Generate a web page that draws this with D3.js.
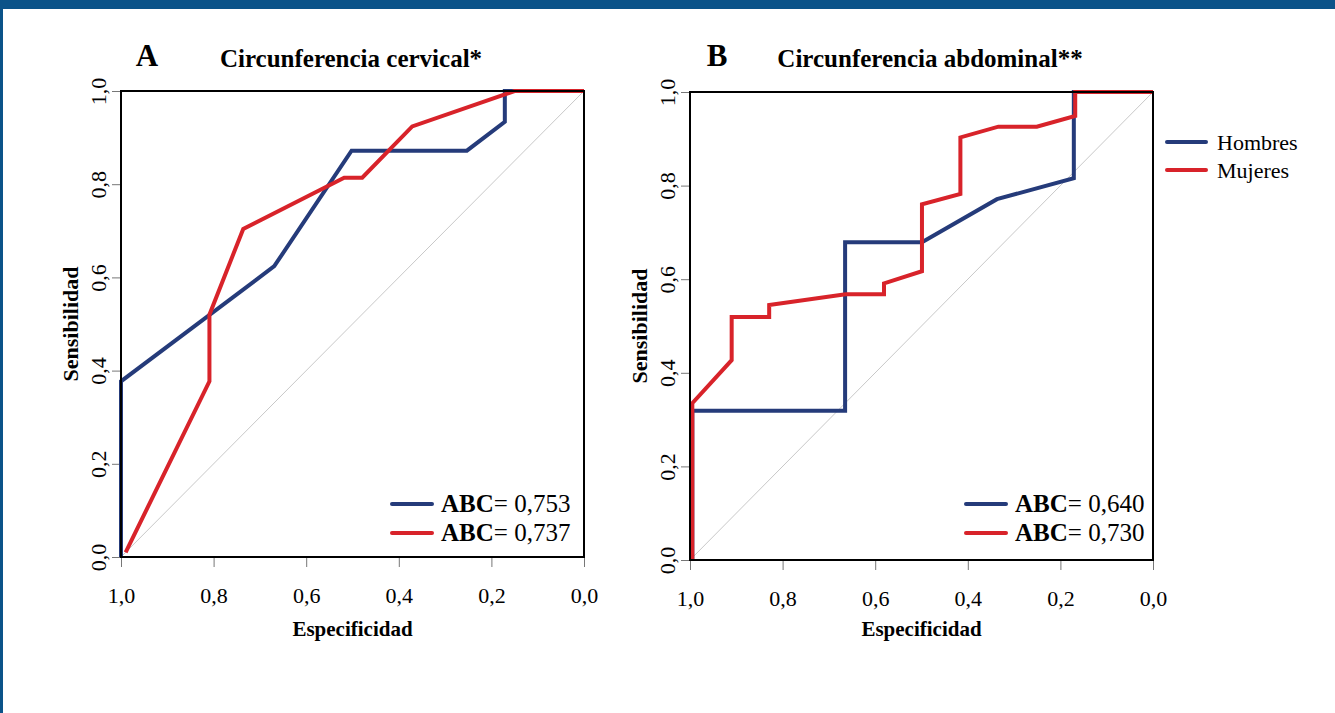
<!DOCTYPE html>
<html>
<head>
<meta charset="utf-8">
<script src="https://cdn.jsdelivr.net/npm/d3@7"></script>
<style>
	body { margin: 0; background: #fff; }
	svg { display: block; }
	text { font-family: "Liberation Serif", "Times New Roman", serif; fill: #000; }
</style>
</head>
<body>
<div id="chart"></div>
<script>
// axis ticks
var tickValues = [1, 0.8, 0.6, 0.4, 0.2, 0];

// panel A - circunferencia cervical
var hombresA_spec = [1, 1, 0.669, 0.502, 0.253, 0.171, 0.171, 0];
var hombresA_sens = [0, 0.377, 0.624, 0.872, 0.872, 0.934, 1, 1];
var mujeresA_spec = [0.99, 0.809, 0.809, 0.736, 0.518, 0.479, 0.371, 0.150, 0];
var mujeresA_sens = [0.01, 0.377, 0.52, 0.704, 0.814, 0.814, 0.924, 1, 1];

// panel B - circunferencia abdominal
var hombresB_spec = [0.995, 0.995, 0.665, 0.665, 0.499, 0.337, 0.171, 0.171, 0];
var hombresB_sens = [0, 0.319, 0.319, 0.679, 0.679, 0.771, 0.816, 1, 1];
var mujeresB_spec = [0.995, 0.995, 0.910, 0.910, 0.829, 0.829, 0.664, 0.581, 0.581, 0.499, 0.499, 0.416, 0.416, 0.334, 0.251, 0.168, 0.168, 0];
var mujeresB_sens = [0, 0.335, 0.427, 0.519, 0.519, 0.545, 0.568, 0.568, 0.591, 0.617, 0.760, 0.782, 0.903, 0.926, 0.926, 0.949, 1, 1];

var seriesNames = ["Hombres", "Mujeres"];
var aucA = ["0,753", "0,737"];
var aucB = ["0,640", "0,730"];

var colors = {Hombres: "#253b7a", Mujeres: "#d8232a"};
var fmt = function(d) { return d3.format(".1f")(d).replace(".", ","); };

var W = 1335, H = 713;
var svg = d3.select("#chart").append("svg")
	.attr("width", W)
	.attr("height", H);

// page frame
svg.append("rect").attr("x", 0).attr("y", 0).attr("width", W).attr("height", 9).attr("fill", "#0b5389");
svg.append("rect").attr("x", 0).attr("y", 0).attr("width", 3).attr("height", H).attr("fill", "#0b5389");

function zip(a, b) {
	return a.map(function(v, i) { return [v, b[i]]; });
}

var panels = [
	{letter: "A", title: "Circunferencia cervical*", left: 121, right: 584, top: 91, bottom: 557,
		letterX: 147, titleX: 351,
		series: [zip(hombresA_spec, hombresA_sens), zip(mujeresA_spec, mujeresA_sens)], auc: aucA, legX: 392},
	{letter: "B", title: "Circunferencia abdominal**", left: 690, right: 1153, top: 92, bottom: 560,
		letterX: 717, titleX: 930,
		series: [zip(hombresB_spec, hombresB_sens), zip(mujeresB_spec, mujeresB_sens)], auc: aucB, legX: 966}
];

panels.forEach(function(p) {
	var x = d3.scaleLinear().domain([1, 0]).range([p.left, p.right]);
	var y = d3.scaleLinear().domain([0, 1]).range([p.bottom, p.top]);
	var g = svg.append("g");

	// titles
	g.append("text").attr("x", p.letterX).attr("y", 66)
		.attr("text-anchor", "middle").attr("font-weight", "bold").attr("font-size", 31)
		.text(p.letter);
	g.append("text").attr("x", p.titleX).attr("y", 67)
		.attr("text-anchor", "middle").attr("font-weight", "bold").attr("font-size", 25)
		.text(p.title);

	// diagonal reference
	g.append("line")
		.attr("x1", x(1)).attr("y1", y(0))
		.attr("x2", x(0)).attr("y2", y(1))
		.attr("stroke", "#c8c8c8").attr("stroke-width", 1);

	// axes
	var xAxis = g.append("g")
		.attr("transform", "translate(0," + p.bottom + ")")
		.call(d3.axisBottom(x).tickValues(tickValues).tickFormat(fmt).tickSize(10).tickPadding(20));
	xAxis.select(".domain").remove();
	xAxis.selectAll("line").attr("stroke", "#777");
	xAxis.selectAll("text").attr("font-size", 22).attr("font-family", "Liberation Serif");

	var yAxis = g.append("g")
		.attr("transform", "translate(" + p.left + ",0)")
		.call(d3.axisLeft(y).tickValues(tickValues).tickFormat(fmt).tickSize(9));
	yAxis.select(".domain").remove();
	yAxis.selectAll("line").attr("stroke", "#777");
	yAxis.selectAll("text")
		.attr("font-size", 22).attr("font-family", "Liberation Serif")
		.attr("x", null).attr("dy", null)
		.attr("text-anchor", "middle")
		.attr("transform", "translate(-9,0) rotate(-90)")
		.attr("y", -6);

	// axis titles
	g.append("text")
		.attr("x", (p.left + p.right) / 2).attr("y", 636)
		.attr("text-anchor", "middle").attr("font-weight", "bold").attr("font-size", 21)
		.text("Especificidad");
	g.append("text")
		.attr("transform", "translate(" + (p.left - 43) + "," + ((p.top + p.bottom) / 2) + ") rotate(-90)")
		.attr("text-anchor", "middle").attr("font-weight", "bold").attr("font-size", 22)
		.text("Sensibilidad");

	// curves
	var line = d3.line().x(function(d) { return x(d[0]); }).y(function(d) { return y(d[1]); });
	p.series.forEach(function(s, i) {
		g.append("path")
			.datum(s)
			.attr("d", line)
			.attr("fill", "none")
			.attr("stroke", colors[seriesNames[i]])
			.attr("stroke-width", 4)
			.attr("stroke-linejoin", "miter");
	});

	// box
	g.append("rect")
		.attr("x", p.left).attr("y", p.top)
		.attr("width", p.right - p.left).attr("height", p.bottom - p.top)
		.attr("fill", "none").attr("stroke", "#000").attr("stroke-width", 2);

	// AUC legend
	p.auc.forEach(function(v, i) {
		var ly = 504 + i * 29;
		g.append("line")
			.attr("x1", p.legX).attr("x2", p.legX + 40)
			.attr("y1", ly).attr("y2", ly)
			.attr("stroke", colors[seriesNames[i]]).attr("stroke-width", 4)
			.attr("stroke-linecap", "round");
		var t = g.append("text").attr("x", p.legX + 49).attr("y", ly + 8).attr("font-size", 25);
		t.append("tspan").attr("font-weight", "bold").text("ABC");
		t.append("tspan").text("= " + v);
	});
});

// sex legend
seriesNames.forEach(function(name, i) {
	var ly = 142 + i * 28;
	svg.append("line")
		.attr("x1", 1167).attr("x2", 1206)
		.attr("y1", ly).attr("y2", ly)
		.attr("stroke", colors[name]).attr("stroke-width", 4)
		.attr("stroke-linecap", "round");
	svg.append("text")
		.attr("x", 1217).attr("y", ly + 8)
		.attr("font-size", 22)
		.text(name);
});
</script>
</body>
</html>
